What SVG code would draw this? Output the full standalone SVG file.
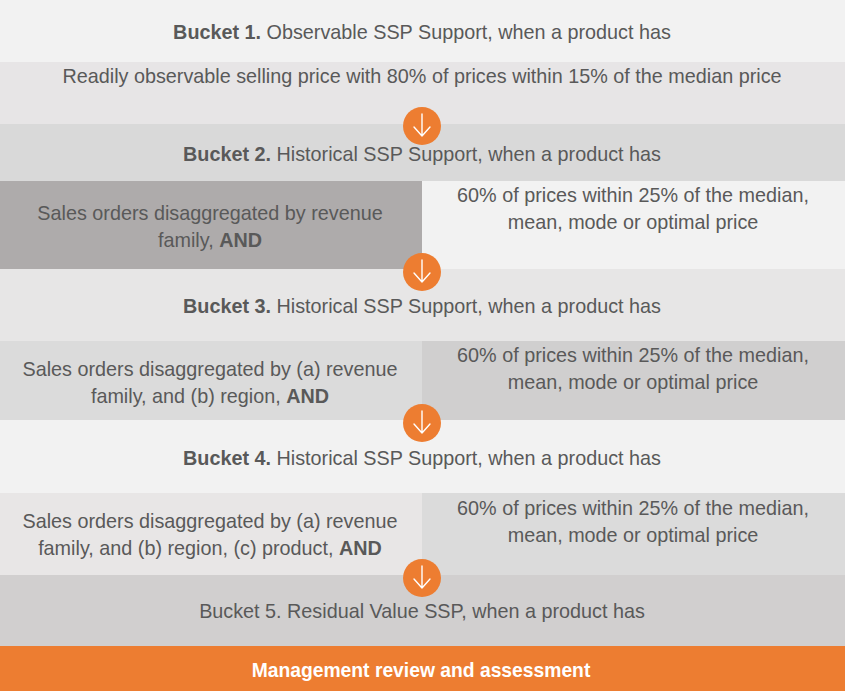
<svg xmlns="http://www.w3.org/2000/svg" width="845" height="691" viewBox="0 0 845 691">
<style>
text{font-family:"Liberation Sans",Arial,sans-serif;font-size:19.8px;fill:#595959;text-anchor:middle}
.b{font-weight:bold}
.w{fill:#ffffff;font-weight:bold;font-size:19.3px}
.arr{fill:none;stroke:#ffffff;stroke-width:1.4;stroke-linecap:round;stroke-linejoin:round}
</style>
<defs>
<g id="down">
<circle cx="0" cy="0" r="19" fill="#ed7d31"/>
<path class="arr" d="M0,-12V10M-8,1L0,10L8,1"/>
</g>
</defs>
<g id="bucket1">
<rect x="0" y="0" width="845" height="62" fill="#f2f2f2"/>
<text x="422" y="39"><tspan class="b">Bucket 1.</tspan> Observable SSP Support, when a product has</text>
</g>
<g id="bucket1-criteria">
<rect x="0" y="62" width="845" height="62" fill="#e7e5e6"/>
<text x="422" y="83">Readily observable selling price with 80% of prices within 15% of the median price</text>
</g>
<g id="bucket2">
<rect x="0" y="124" width="845" height="57" fill="#d9d9d9"/>
<text x="422" y="161"><tspan class="b">Bucket 2.</tspan> Historical SSP Support, when a product has</text>
</g>
<g id="bucket2-left">
<rect x="0" y="181" width="422" height="88" fill="#aeabab"/>
<text x="210" y="220">Sales orders disaggregated by revenue</text>
<text x="210" y="247">family, <tspan class="b">AND</tspan></text>
</g>
<g id="bucket2-right">
<rect x="422" y="181" width="423" height="88" fill="#f2f2f2"/>
<text x="633" y="202">60% of prices within 25% of the median,</text>
<text x="633" y="229">mean, mode or optimal price</text>
</g>
<g id="bucket3">
<rect x="0" y="269" width="845" height="72" fill="#e7e6e6"/>
<text x="422" y="313"><tspan class="b">Bucket 3.</tspan> Historical SSP Support, when a product has</text>
</g>
<g id="bucket3-left">
<rect x="0" y="341" width="422" height="79" fill="#dbdbdb"/>
<text x="210" y="376">Sales orders disaggregated by (a) revenue</text>
<text x="210" y="403">family, and (b) region, <tspan class="b">AND</tspan></text>
</g>
<g id="bucket3-right">
<rect x="422" y="341" width="423" height="79" fill="#d0cfcf"/>
<text x="633" y="362">60% of prices within 25% of the median,</text>
<text x="633" y="389">mean, mode or optimal price</text>
</g>
<g id="bucket4">
<rect x="0" y="420" width="845" height="73" fill="#f2f2f2"/>
<text x="422" y="465"><tspan class="b">Bucket 4.</tspan> Historical SSP Support, when a product has</text>
</g>
<g id="bucket4-left">
<rect x="0" y="493" width="422" height="82" fill="#e8e6e6"/>
<text x="210" y="528">Sales orders disaggregated by (a) revenue</text>
<text x="210" y="555">family, and (b) region, (c) product, <tspan class="b">AND</tspan></text>
</g>
<g id="bucket4-right">
<rect x="422" y="493" width="423" height="82" fill="#dbdbdb"/>
<text x="633" y="515">60% of prices within 25% of the median,</text>
<text x="633" y="542">mean, mode or optimal price</text>
</g>
<g id="bucket5">
<rect x="0" y="575" width="845" height="71" fill="#d1cfcf"/>
<text x="422" y="618">Bucket 5. Residual Value SSP, when a product has</text>
</g>
<g id="management">
<rect x="0" y="646" width="845" height="45" fill="#ed7d31"/>
<text class="w" x="421" y="677">Management review and assessment</text>
</g>
<g id="connectors">
<use href="#down" x="422" y="126"/>
<use href="#down" x="422" y="272"/>
<use href="#down" x="422" y="423"/>
<use href="#down" x="422" y="578"/>
</g>
</svg>
